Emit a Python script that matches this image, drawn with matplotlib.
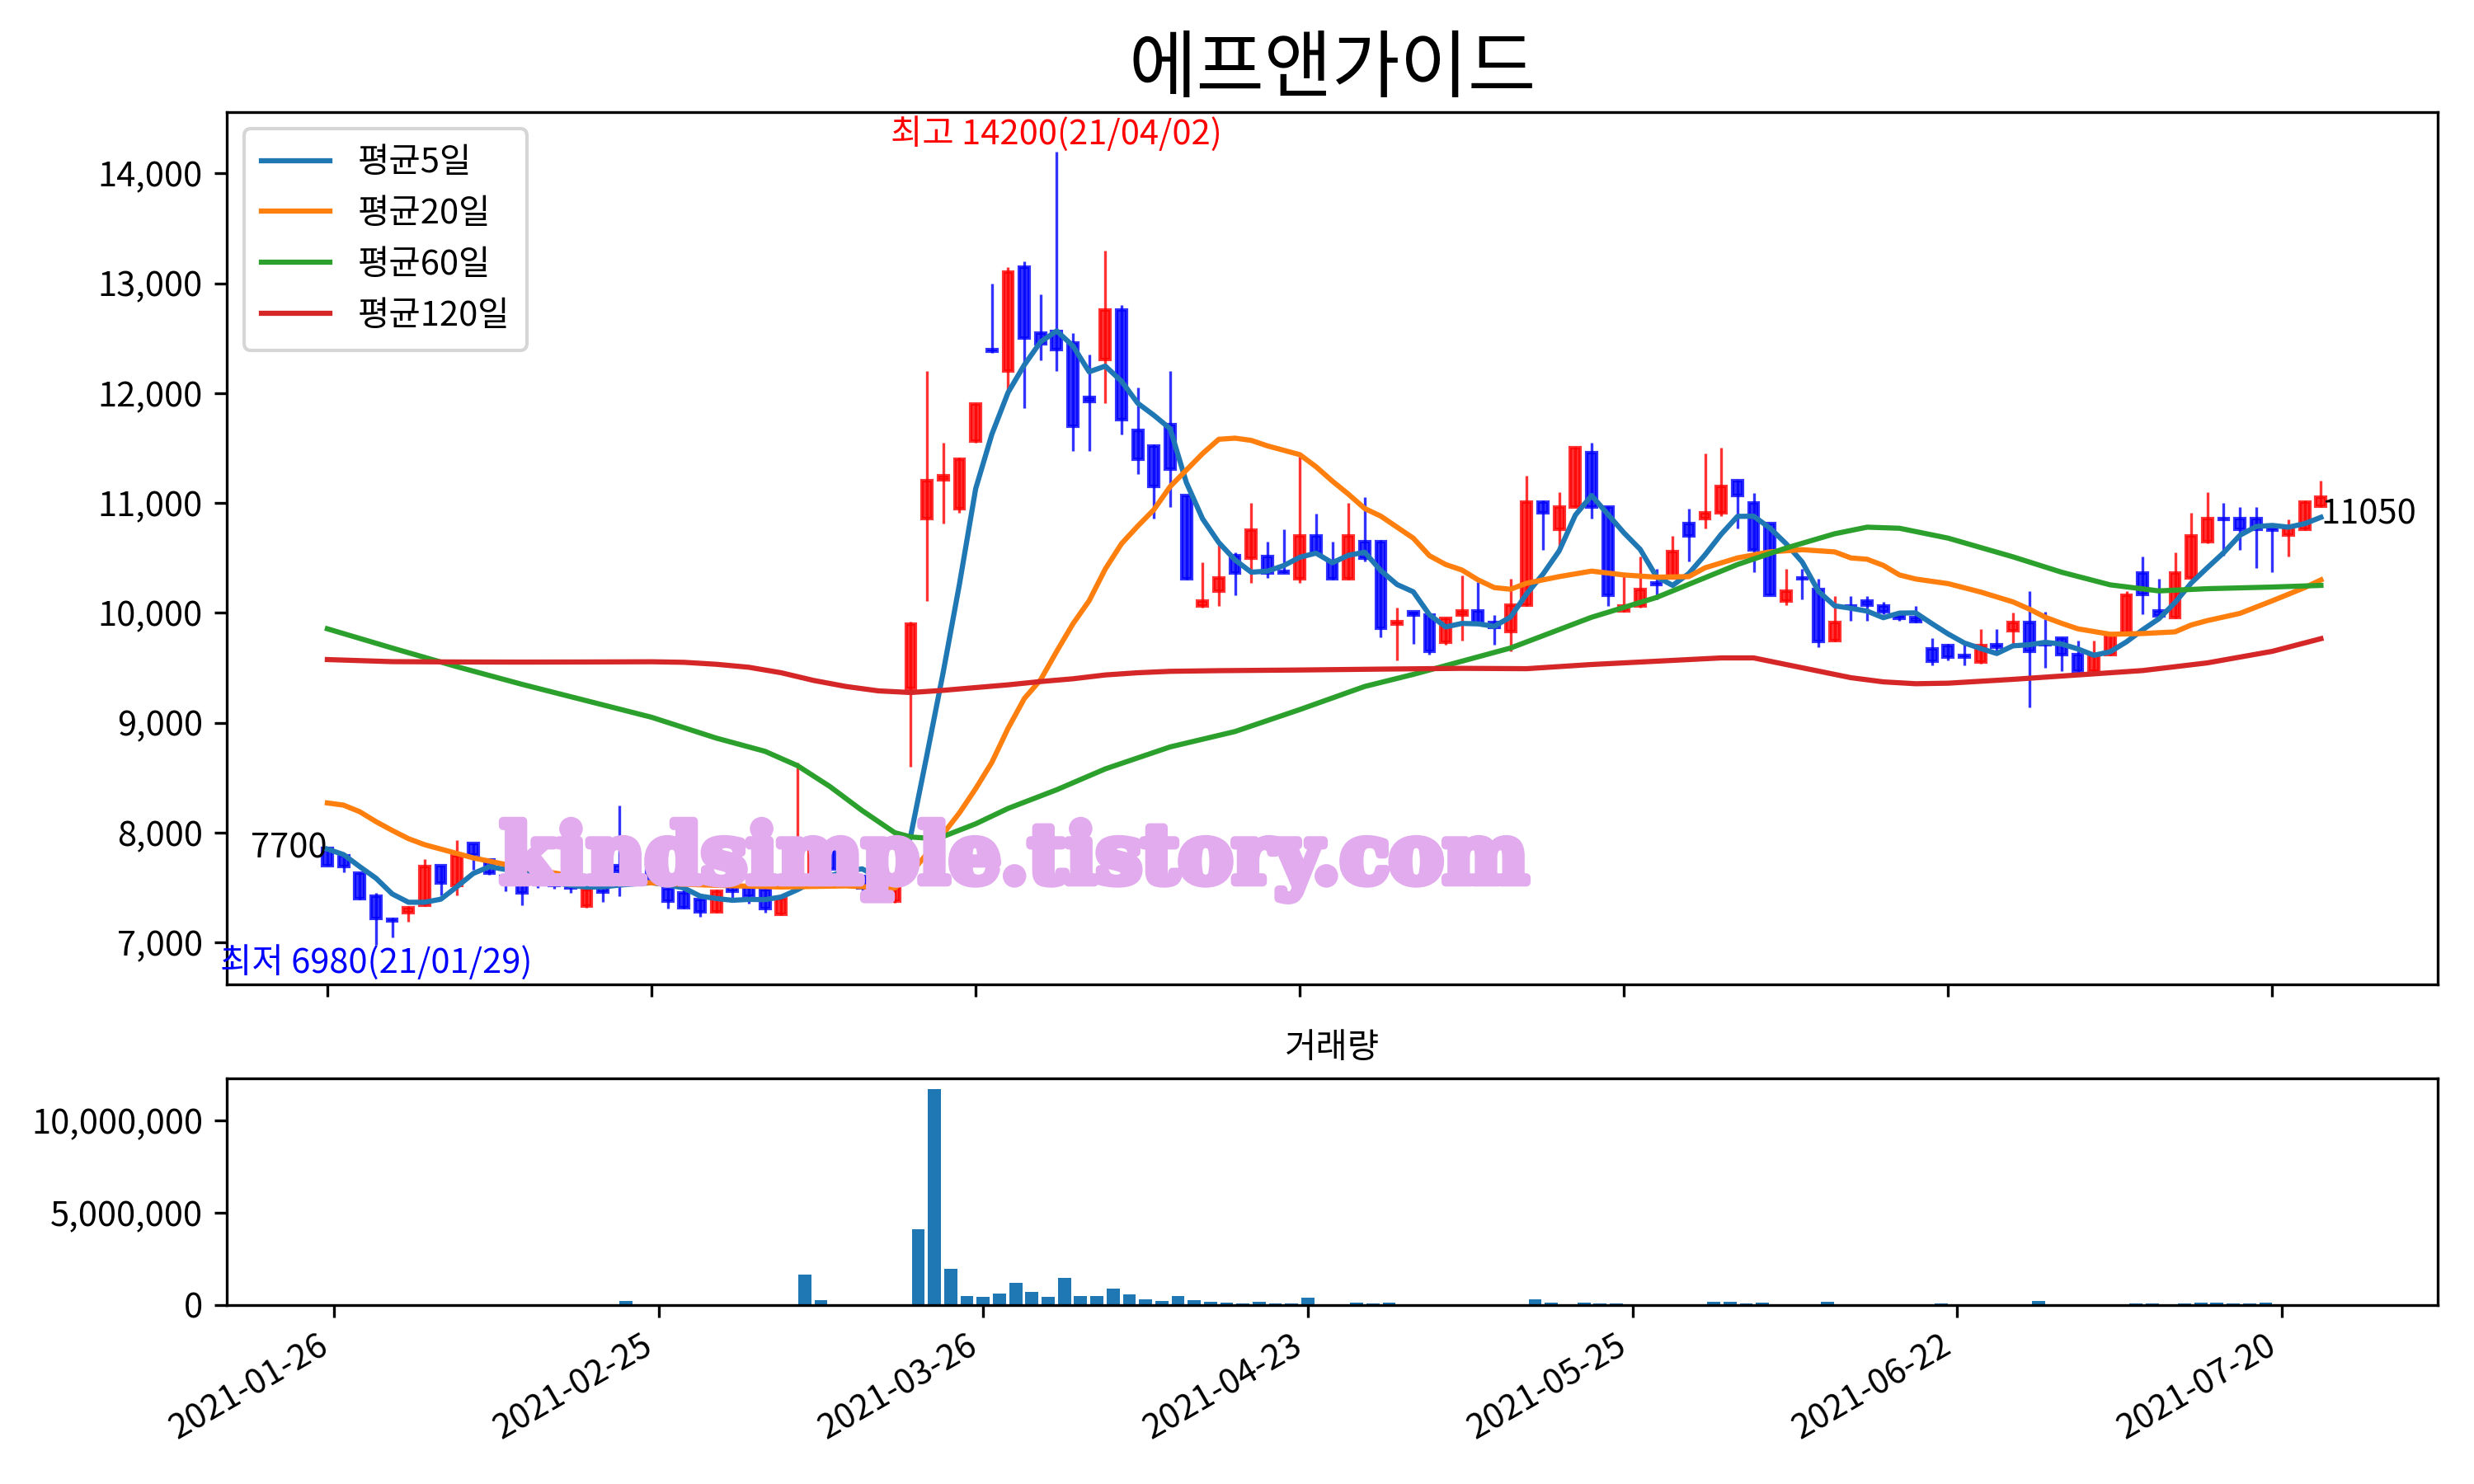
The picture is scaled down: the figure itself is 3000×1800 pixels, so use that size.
import matplotlib
matplotlib.use("Agg")
import matplotlib.pyplot as plt
import matplotlib.patheffects as pe
import numpy as np
import pandas as pd
from matplotlib.ticker import FuncFormatter

# ---------------- data ----------------
title = "에프앤가이드"
tick_labels = ["2021-01-26", "2021-02-25", "2021-03-26", "2021-04-23",
               "2021-05-25", "2021-06-22", "2021-07-20"]

opens = [7860, 7790, 7630, 7420, 7210, 7270, 7340, 7700, 7520, 7900,
         7750, 7600, 7600, 7600, 7570, 7540, 7330, 7530, 7700, 7620,
         7700, 7490, 7450, 7390, 7280, 7520, 7510, 7480, 7260, 7520,
         7600, 7880, 7600, 7600, 7480, 7380, 9310, 10860, 11210, 10950,
         11560, 12400, 12200, 13150, 12550, 12560, 12460, 11960, 12310, 12760,
         11660, 11520, 11710, 11070, 10060, 10200, 10520, 10500, 10510, 10380,
         10310, 10700, 10470, 10310, 10650, 10650, 9900, 10010, 9980, 9730,
         9980, 10020, 9910, 9830, 10070, 11010, 10760, 10960, 11460, 10960,
         10020, 10060, 10270, 10320, 10810, 10860, 10910, 11200, 11000, 10810,
         10110, 10320, 10210, 9750, 10060, 10110, 10060, 9980, 9960, 9670,
         9700, 9610, 9550, 9710, 9840, 9910, 9720, 9770, 9620, 9470,
         9620, 9810, 10360, 10020, 9960, 10320, 10650, 10860, 10860, 10860,
         10770, 10710, 10760, 10970]
highs = [7870, 7800, 7640, 7450, 7230, 7330, 7760, 7700, 7930, 7900,
         7760, 7620, 7740, 7620, 7580, 7560, 7520, 7540, 8250, 7640,
         7850, 7500, 7480, 7400, 7480, 7800, 7520, 7500, 7420, 8640,
         7940, 7930, 7650, 7620, 7500, 7640, 9920, 12200, 11550, 11410,
         11910, 13000, 13150, 13200, 12900, 14200, 12550, 12350, 13300, 12800,
         12050, 11530, 12200, 11070, 10460, 10630, 10550, 11000, 10650, 10760,
         11450, 10900, 10650, 11000, 11050, 10660, 10050, 10010, 9990, 9960,
         10340, 10280, 9980, 10310, 11250, 11020, 11100, 11510, 11550, 10970,
         10330, 10510, 10400, 10700, 10950, 11450, 11500, 11210, 11090, 10810,
         10400, 10400, 10310, 10150, 10150, 10150, 10100, 9990, 10060, 9770,
         9720, 9710, 9850, 9850, 10000, 10200, 10010, 9780, 9750, 9750,
         9820, 10200, 10510, 10310, 10550, 10910, 11100, 11000, 10960, 10960,
         10770, 10850, 11020, 11200]
lows = [7700, 7640, 7390, 6980, 7050, 7190, 7330, 7430, 7430, 7660,
        7620, 7470, 7340, 7500, 7490, 7450, 7320, 7370, 7420, 7560,
        7540, 7310, 7310, 7235, 7270, 7400, 7355, 7270, 7250, 7500,
        7580, 7650, 7520, 7400, 7390, 7360, 8600, 10110, 10810, 10910,
        11550, 12370, 12020, 11860, 12300, 12200, 11470, 11470, 11910, 11620,
        11260, 10860, 10960, 10300, 10050, 10060, 10160, 10270, 10320, 10360,
        10270, 10550, 10300, 10300, 10470, 9780, 9570, 9720, 9620, 9710,
        9750, 9890, 9710, 9650, 10060, 10570, 10580, 10960, 10860, 10060,
        10010, 10050, 10120, 10310, 10470, 10770, 10880, 10770, 10370, 10160,
        10070, 10120, 9690, 9740, 9930, 9930, 9990, 9930, 9910, 9520,
        9570, 9520, 9540, 9650, 9720, 9140, 9500, 9470, 9460, 9460,
        9610, 9800, 9990, 9960, 9950, 10310, 10630, 10520, 10570, 10410,
        10370, 10510, 10750, 10960]
closes = [7700, 7690, 7400, 7220, 7200, 7320, 7690, 7540, 7790, 7800,
          7630, 7560, 7450, 7570, 7520, 7500, 7480, 7460, 7650, 7580,
          7550, 7380, 7320, 7280, 7470, 7470, 7420, 7310, 7400, 7800,
          7850, 7670, 7530, 7500, 7400, 7560, 9900, 11200, 11250, 11400,
          11900, 12380, 13100, 12500, 12450, 12400, 11700, 11920, 12760, 11760,
          11400, 11150, 11310, 10310, 10110, 10320, 10360, 10750, 10360, 10360,
          10700, 10550, 10310, 10700, 10500, 9860, 9920, 9980, 9650, 9950,
          10020, 9900, 9870, 10070, 11010, 10910, 10960, 11500, 10960, 10160,
          10060, 10210, 10260, 10560, 10700, 10910, 11150, 11070, 10570, 10160,
          10200, 10310, 9740, 9910, 10050, 10070, 10010, 9950, 9920, 9560,
          9600, 9600, 9700, 9690, 9910, 9650, 9710, 9620, 9470, 9620,
          9810, 10160, 10170, 9970, 10360, 10700, 10860, 10850, 10760, 10760,
          10750, 10780, 11010, 11050]
volumes = [20000, 20000, 20000, 50000, 20000, 20000, 50000, 20000, 50000, 20000,
           20000, 20000, 20000, 20000, 20000, 20000, 20000, 20000, 240000, 50000,
           20000, 20000, 20000, 20000, 20000, 20000, 20000, 20000, 20000, 1660000,
           270000, 20000, 20000, 50000, 50000, 20000, 4120000, 11690000, 1970000, 490000,
           450000, 630000, 1210000, 720000, 450000, 1480000, 490000, 490000, 900000, 580000,
           310000, 220000, 490000, 270000, 180000, 130000, 90000, 180000, 90000, 90000,
           400000, 50000, 50000, 130000, 90000, 130000, 50000, 20000, 20000, 20000,
           20000, 20000, 20000, 50000, 310000, 130000, 50000, 130000, 90000, 90000,
           20000, 20000, 20000, 20000, 50000, 180000, 180000, 90000, 130000, 50000,
           20000, 20000, 180000, 50000, 20000, 20000, 20000, 20000, 20000, 90000,
           20000, 20000, 50000, 20000, 50000, 220000, 50000, 20000, 50000, 50000,
           20000, 90000, 90000, 50000, 90000, 130000, 130000, 90000, 90000, 130000,
           20000, 50000, 50000, 20000]

# first four 5-day averages (need history before the window)
ma5_head = [7850, 7800, 7690, 7585]

ma20_x = [0, 1, 2, 3, 4, 5, 6, 7, 9, 11, 13, 15, 17, 19, 21, 24, 28, 32, 34, 35,
          36, 37, 38, 39, 40, 41, 42, 43, 44, 45, 46, 47, 48, 49, 50, 51, 52, 53, 54, 55,
          56, 57, 58, 59, 60, 61, 62, 63, 64, 65, 66, 67, 68, 69, 70, 71, 72, 73, 74, 76,
          78, 80, 82, 84, 85, 87, 89, 91, 93, 94, 95, 96, 97, 98, 100, 102, 104, 105, 106, 107,
          108, 110, 112, 114, 115, 116, 118, 120, 122, 123]
ma20_y = [8270, 8250, 8190, 8100, 8020, 7945, 7890, 7850, 7770, 7710, 7655, 7610, 7570, 7550, 7535, 7520, 7505, 7515, 7500, 7495,
          7630, 7810, 7990, 8180, 8400, 8640, 8950, 9220, 9390, 9650, 9900, 10110, 10400, 10630, 10790, 10940, 11150, 11300, 11450, 11580,
          11590, 11570, 11520, 11480, 11440, 11330, 11200, 11080, 10950, 10880, 10780, 10680, 10520, 10440, 10390, 10300, 10230, 10215, 10270, 10330,
          10380, 10345, 10325, 10330, 10410, 10500, 10555, 10575, 10555, 10500, 10488, 10432, 10345, 10308, 10266, 10190, 10100, 10035, 9960, 9905,
          9855, 9805, 9812, 9827, 9890, 9930, 9995, 10110, 10230, 10300]

ma60_x = [0, 4, 8, 12, 16, 20, 24, 27, 29, 31, 33, 35, 36, 37, 38, 40, 42, 45, 48, 52,
          56, 60, 64, 67, 70, 73, 78, 82, 87, 90, 93, 95, 97, 100, 104, 107, 110, 113, 116, 120, 123]
ma60_y = [9855, 9680, 9510, 9350, 9200, 9050, 8860, 8740, 8610, 8420, 8200, 8000, 7960, 7950, 7965, 8080, 8220, 8390, 8580, 8780,
          8920, 9120, 9330, 9440, 9560, 9680, 9960, 10140, 10440, 10590, 10720, 10780, 10770, 10680, 10510, 10370, 10255, 10200, 10220, 10235, 10250]

ma120_x = [0, 4, 8, 12, 16, 20, 22, 24, 26, 28, 30, 32, 34, 36, 38, 40, 42, 44, 46, 48,
           50, 52, 55, 60, 65, 70, 74, 78, 82, 86, 88, 90, 92, 94, 96, 98, 100, 104, 108, 112,
           116, 120, 123]
ma120_y = [9575, 9556, 9553, 9552, 9553, 9555, 9550, 9532, 9505, 9455, 9385, 9330, 9290, 9275, 9295, 9320, 9345, 9375, 9400, 9435,
           9455, 9468, 9474, 9480, 9488, 9495, 9492, 9530, 9560, 9590, 9590, 9530, 9470, 9410, 9372, 9355, 9360, 9395, 9435, 9475,
           9545, 9650, 9765]

legend_labels = ["평균5일", "평균20일", "평균60일", "평균120일"]
ma_colors = ["tab:blue", "tab:orange", "tab:green", "tab:red"]

# ---------------- plotting ----------------
plt.rcParams["font.family"] = ["Noto Sans CJK KR", "DejaVu Sans"]
plt.rcParams["axes.unicode_minus"] = False

o = np.array(opens, float); h = np.array(highs, float)
l = np.array(lows, float); c = np.array(closes, float)
n = len(c)
x = np.arange(n)

ma5 = pd.Series(c).rolling(5).mean().to_numpy()
ma5[:4] = ma5_head

fig = plt.figure(figsize=(10, 6), dpi=300)
ax = fig.add_axes([0.0917, 0.3367, 0.8936, 0.588])
ax2 = fig.add_axes([0.0917, 0.1206, 0.8936, 0.1527])

up = c >= o
cols = np.where(up, "#ff0000", "#0000ff")
ax.vlines(x, l, h, colors=cols, linewidth=0.8, alpha=0.8, zorder=2)
ax.bar(x, np.abs(c - o), bottom=np.minimum(o, c), width=0.6, color=cols,
       edgecolor=cols, linewidth=1.0, alpha=0.8, zorder=3)

ax.plot(x, ma5, color=ma_colors[0], lw=1.5, label=legend_labels[0], zorder=4)
ax.plot(ma20_x, ma20_y, color=ma_colors[1], lw=1.5, label=legend_labels[1], zorder=4)
ax.plot(ma60_x, ma60_y, color=ma_colors[2], lw=1.5, label=legend_labels[2], zorder=4)
ax.plot(ma120_x, ma120_y, color=ma_colors[3], lw=1.5, label=legend_labels[3], zorder=4)

ax.set_xlim(-6.2, 130.2)
ax.yaxis.set_major_formatter(FuncFormatter(lambda v, p: f"{v:,.0f}"))
ticks = list(range(0, n, 20))
ax.set_xticks(ticks)
ax.set_xticklabels([])
ax.set_title(title, fontsize=21.5)
ax.legend(loc="upper left", fontsize=10, borderpad=0.5)

imax = int(np.argmax(h)); imin = int(np.argmin(l))
ax.text(imax, h[imax], f"최고 {int(h[imax])}(21/04/02)", color="red", ha="center", va="bottom", fontsize=10)
ax.text(imin, l[imin], f"최저 {int(l[imin])}(21/01/29)", color="blue", ha="center", va="top", fontsize=10)
ax.text(0, c[0], f"{int(c[0])}", color="black", ha="right", va="bottom", fontsize=10)
ax.text(n - 1, c[-1], f"{int(c[-1])}", color="black", ha="left", va="top", fontsize=10)

wm_color = "#E2ABEE"
wm = ax.text(0.356, 0.117, "kindsimple.tistory.com", transform=ax.transAxes,
             ha="center", va="baseline", fontsize=22, family="DejaVu Serif",
             weight="bold", color=wm_color, zorder=10,
             path_effects=[pe.withStroke(linewidth=2.5, foreground=wm_color)])
fig.canvas.draw()
w = wm.get_window_extent().width
wm.set_fontsize(22 * 1245.0 / w)

ax2.bar(x, volumes, width=0.8, color="tab:blue")
ax2.set_xlim(-6.59, 129.59)
ax2.set_xticks(ticks)
ax2.set_xticklabels(tick_labels, rotation=30, ha="right", fontsize=10)
ax2.yaxis.set_major_formatter(FuncFormatter(lambda v, p: f"{v:,.0f}"))
ax2.set_title("거래량", fontsize=10)

fig.savefig("out.png", dpi=300)
